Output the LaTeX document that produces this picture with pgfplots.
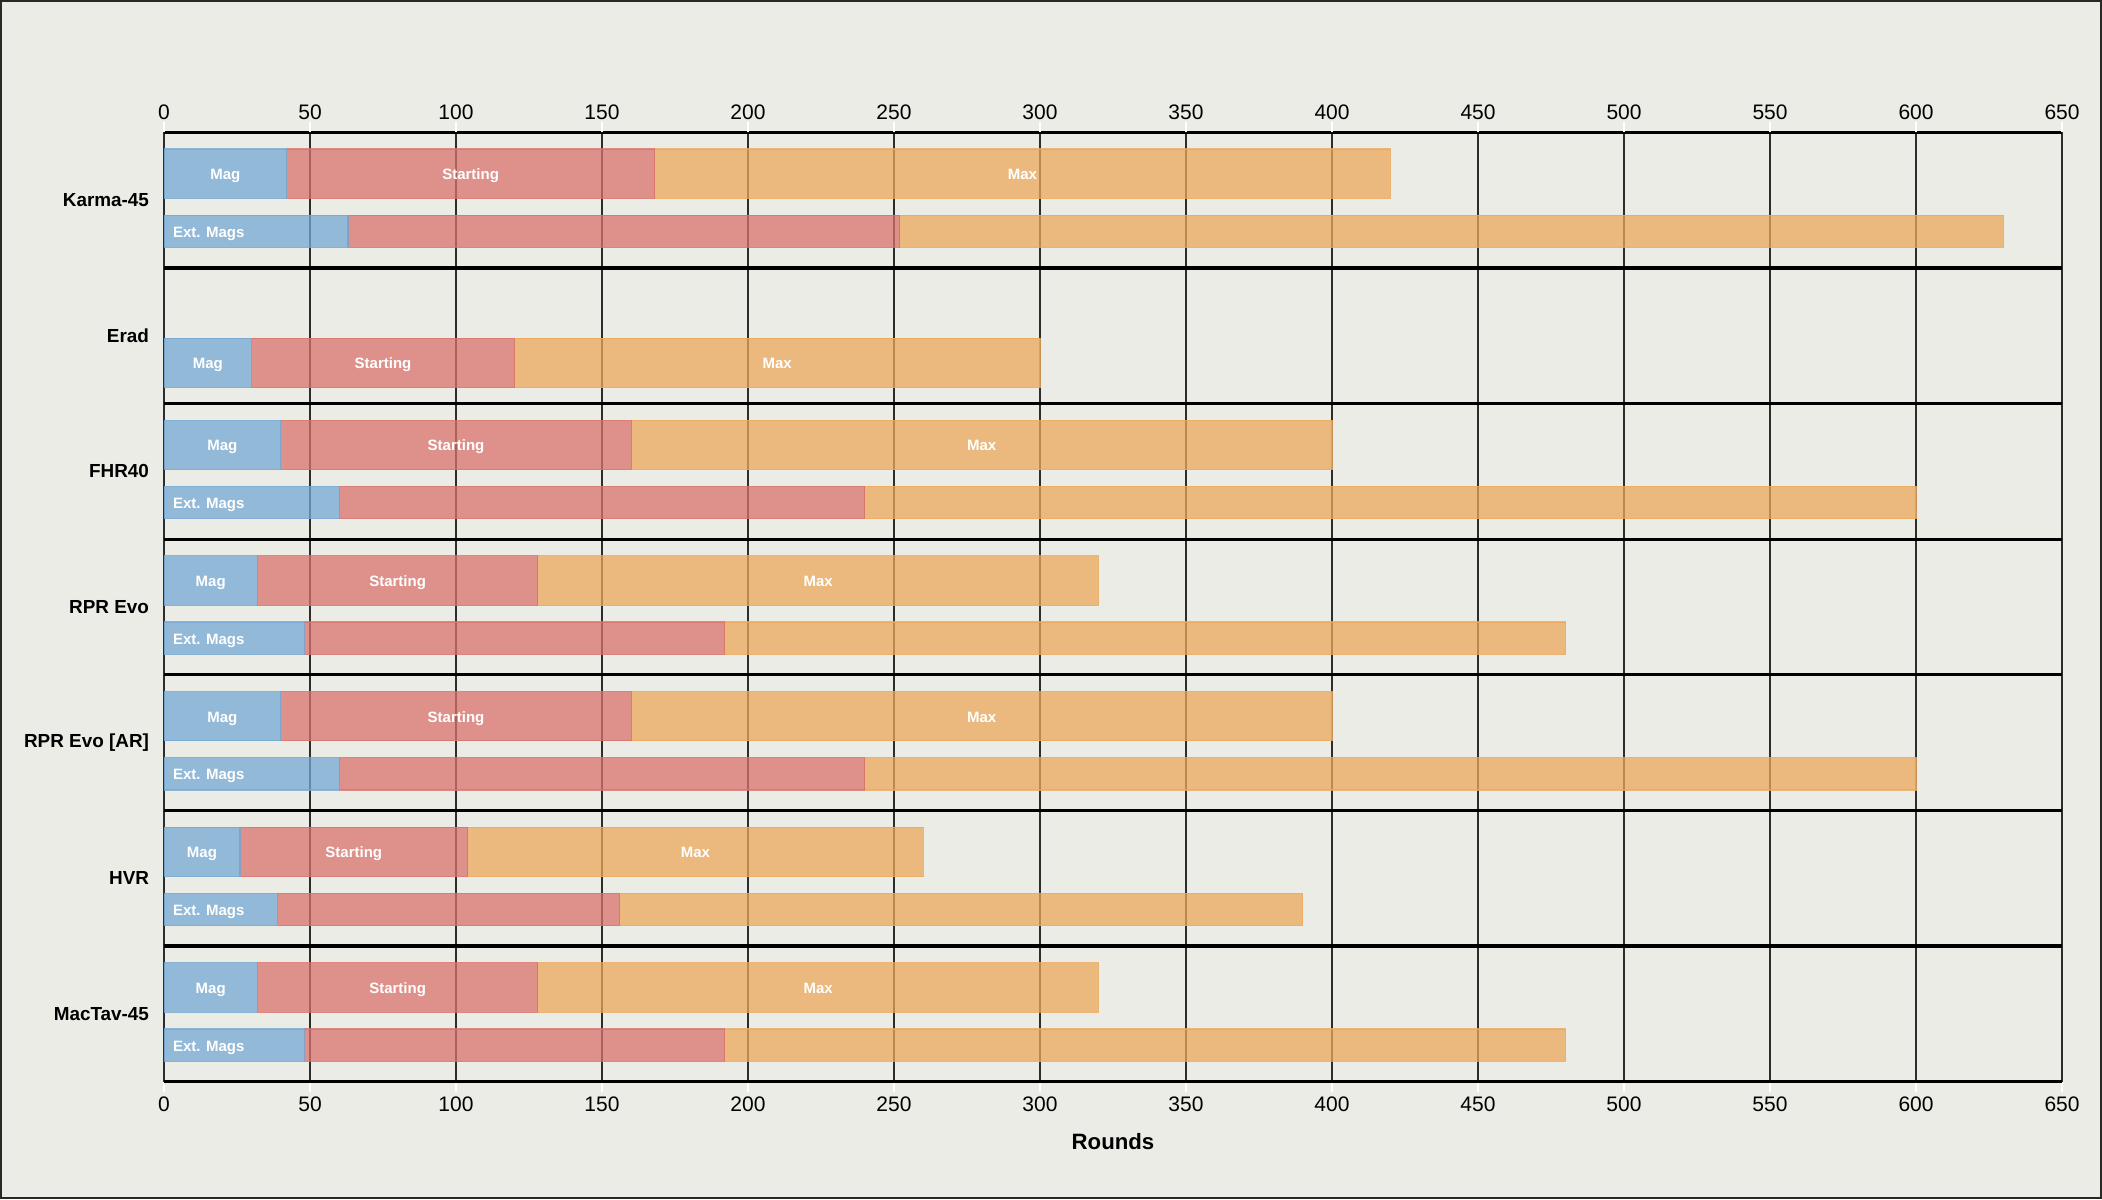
\documentclass[border=0pt]{standalone}
\usepackage{pgfplots}
\usepackage{pgfplotstable}
\pgfplotsset{compat=1.18}
\usepackage{fontspec}
\setmainfont{Liberation Sans}

\definecolor{bgc}{RGB}{236,236,231}
\definecolor{framec}{RGB}{40,40,40}
\definecolor{gridc}{RGB}{45,45,45}
\definecolor{cblue}{RGB}{116,168,211}
\definecolor{cred}{RGB}{217,115,107}
\definecolor{corange}{RGB}{235,169,91}

\pgfplotstableread{
y mag start max
-0.305 42 126 252
-1.70 30 90 180
-2.305 40 120 240
-3.305 32 96 192
-4.305 40 120 240
-5.305 26 78 156
-6.305 32 96 192
}\rowone

\pgfplotstableread{
y mag start max
-0.73 63 189 378
-2.73 60 180 360
-3.73 48 144 288
-4.73 60 180 360
-5.73 39 117 234
-6.73 48 144 288
}\rowtwo

\pgfplotstableread{
x y label
21 -0.305 Mag
105 -0.305 Starting
294 -0.305 Max
15 -1.70 Mag
75 -1.70 Starting
210 -1.70 Max
20 -2.305 Mag
100 -2.305 Starting
280 -2.305 Max
16 -3.305 Mag
80 -3.305 Starting
224 -3.305 Max
20 -4.305 Mag
100 -4.305 Starting
280 -4.305 Max
13 -5.305 Mag
65 -5.305 Starting
182 -5.305 Max
16 -6.305 Mag
80 -6.305 Starting
224 -6.305 Max
}\labelsone

\pgfplotstableread{
x y label
0 -0.73 {Ext. Mags}
0 -2.73 {Ext. Mags}
0 -3.73 {Ext. Mags}
0 -4.73 {Ext. Mags}
0 -5.73 {Ext. Mags}
0 -6.73 {Ext. Mags}
}\labelstwo

\pgfplotsset{
  common/.style={
    scale only axis,
    width=632.67pt, height=316.47pt,
    at={(54.67pt,39.1pt)}, anchor=south west,
    xmin=0, xmax=650, ymin=-7, ymax=0,
    xtick={0,50,...,650},
    /pgf/number format/assume math mode=true,
    tick label style={font=\fontsize{7}{8}\selectfont},
  },
  barax/.style={
    common, hide axis,
    xbar stacked,
    every axis plot/.append style={fill opacity=0.75, draw opacity=0.8, line width=0.4pt},
  },
}

\begin{document}
\begin{tikzpicture}
\useasboundingbox (0,0) rectangle (700.67pt,399.67pt);
\fill[bgc] (0,0) rectangle (700.67pt,399.67pt);
\draw[framec, line width=0.67pt] (0.333pt,0.333pt) rectangle (700.33pt,399.33pt);

% decorations: grid, separators, bottom ticks, categories, xlabel
\begin{axis}[
  common,
  xmajorgrids=true,
  major grid style={draw=gridc, line width=0.42pt},
  axis line style={draw=gridc, line width=0.42pt},
  tick align=outside,
  major tick length=3.3pt,
  xtick style={white, line width=0.5pt},
  ytick style={draw=none},
  xtick pos=left, xticklabel pos=left,
  xticklabel style={yshift=1.8pt},
  ytick={-6.5,-5.5,-4.5,-3.5,-2.5,-1.5,-0.5},
  yticklabels={MacTav-45,HVR,RPR Evo [AR],RPR Evo,FHR40,Erad,Karma-45},
  yticklabel style={font=\bfseries\fontsize{6.3}{7.5}\selectfont, anchor=east, inner sep=0pt, xshift=-1.5pt},
  extra y ticks={-7,-6,-5,-4,-3,-2,-1,0},
  extra y tick labels={},
  extra y tick style={ymajorgrids=true, major grid style={draw=black, line width=1.1pt}, major tick length=0pt},
  xlabel={Rounds},
  xlabel style={font=\bfseries\fontsize{7.4}{9}\selectfont, at={(axis description cs:0.5,0)}, anchor=center, yshift=-19.8pt},
]
\addplot[draw=none] coordinates {(0,-1)};
\end{axis}

% first row of bars
\begin{axis}[barax, bar width=0.364]
\addplot [fill=cblue, draw=cblue] table [x=mag, y=y] {\rowone};
\addplot [fill=cred, draw=cred] table [x=start, y=y] {\rowone};
\addplot [fill=corange, draw=corange] table [x=max, y=y] {\rowone};
\end{axis}

% second row of bars
\begin{axis}[barax, bar width=0.238]
\addplot [fill=cblue, draw=cblue] table [x=mag, y=y] {\rowtwo};
\addplot [fill=cred, draw=cred] table [x=start, y=y] {\rowtwo};
\addplot [fill=corange, draw=corange] table [x=max, y=y] {\rowtwo};
\end{axis}

% labels and top ticks
\begin{axis}[
  common,
  axis line style={draw=none},
  tick align=outside,
  major tick length=3.3pt,
  xtick style={white, line width=0.5pt},
  xtick pos=right, xticklabel pos=right,
  xticklabel style={yshift=-2.7pt},
  ytick=\empty,
]
\addplot [only marks, mark=none, nodes near coords, point meta=explicit symbolic,
  every node near coord/.style={anchor=base, yshift=-2pt, inner sep=0pt, text=white, font=\bfseries\fontsize{5}{6}\selectfont}]
  table [x=x, y=y, meta=label] {\labelsone};
\addplot [only marks, mark=none, nodes near coords, point meta=explicit symbolic,
  every node near coord/.style={anchor=base west, xshift=2.8pt, yshift=-2pt, inner sep=0pt, text=white, font=\bfseries\fontsize{5}{6}\selectfont}]
  table [x=x, y=y, meta=label] {\labelstwo};
\end{axis}
\end{tikzpicture}
\end{document}
